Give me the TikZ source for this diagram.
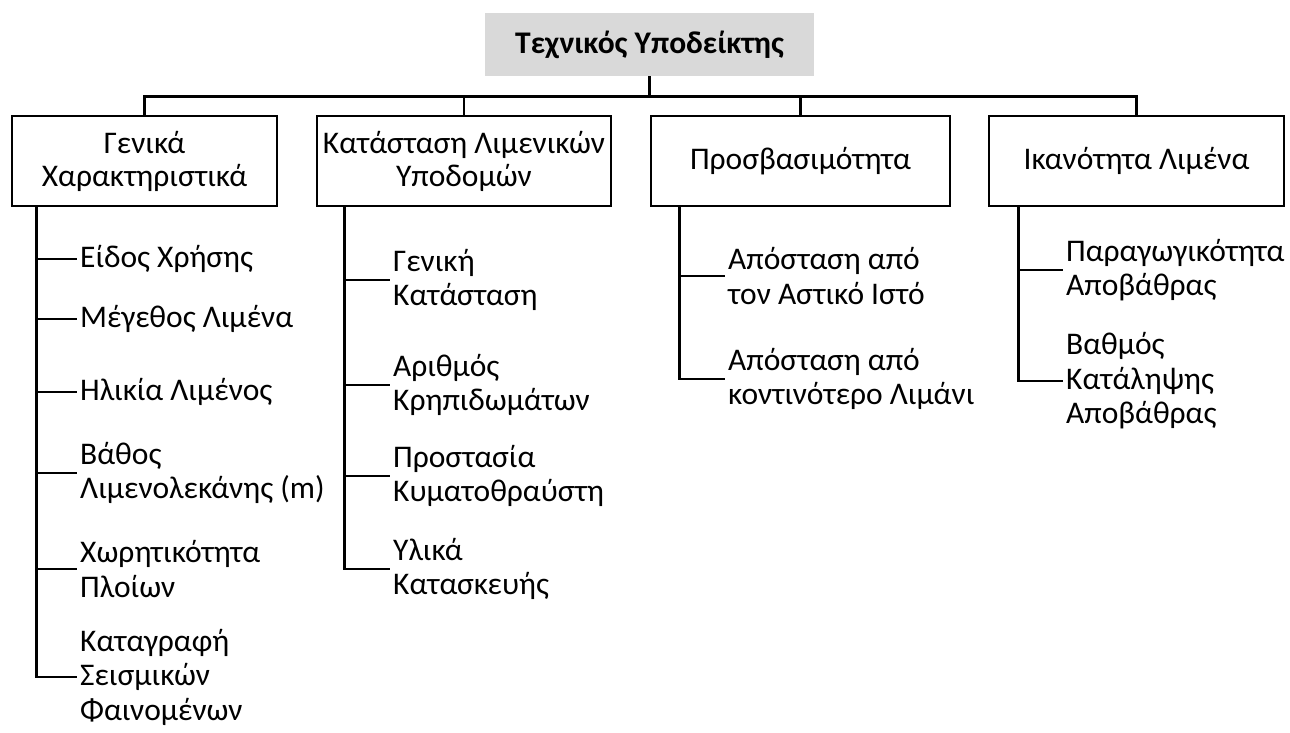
\documentclass[tikz,border=0pt]{standalone}
\usepackage{fontspec}
\setmainfont{Carlito}
\begin{document}
\begin{tikzpicture}[x=1pt,y=-1pt,
  txt/.style={font=\fontsize{31.5}{34.5}\selectfont},
  rootbox/.style={font=\fontsize{31.5}{34.5}\selectfont\bfseries,fill=rootgray,draw=none,
    minimum width=329pt,minimum height=63pt,inner sep=0pt},
  catbox/.style={font=\fontsize{31.5}{33}\selectfont,draw=black,line width=2.8pt,align=center,
    minimum height=90pt,inner sep=0pt},
  leaf/.style={txt,align=left,anchor=west,inner xsep=3pt,inner ysep=0pt},
  link/.style={draw=black,line width=2.7pt},
  branch/.style={draw=black,line width=2.4pt}]
\definecolor{rootgray}{HTML}{D9D9D9}
\useasboundingbox (0,0) rectangle (1290,733);

% root and the four categories
\node[rootbox] (root) at (649.5,44.5) {Τεχνικός Υποδείκτης};
\coordinate (bar) at (0,96.5);
\node[catbox,minimum width=265pt] (c1) at (144.5,161) {Γενικά\\Χαρακτηριστικά};
\node[catbox,minimum width=294pt] (c2) at (464,161) {Κατάσταση Λιμενικών\\Υποδομών};
\node[catbox,minimum width=299pt] (c3) at (800.5,161) {Προσβασιμότητα};
\node[catbox,minimum width=295pt] (c4) at (1136.5,161) {Ικανότητα Λιμένα};

\draw[link] (root.south) -- (root.south |- bar);
\draw[link] (c1.north) -- (c1.north |- bar) -- (c4.north |- bar) -- (c4.north);
\draw[link] (c2.north) -- (c2.north |- bar);
\draw[link] (c3.north) -- (c3.north |- bar);

% column 1
\node[leaf] (a1) at (77,259) {Είδος Χρήσης};
\node[leaf] (a2) at (77,319) {Μέγεθος Λιμένα};
\node[leaf] (a3) at (77,392) {Ηλικία Λιμένος};
\node[leaf] (a4) at (77,473) {Βάθος\\Λιμενολεκάνης (m)};
\node[leaf] (a5) at (77,569) {Χωρητικότητα\\Πλοίων};
\node[leaf] (a6) at (77,677) {Καταγραφή\\Σεισμικών\\Φαινομένων};
\coordinate (s1) at ([xshift=26pt]c1.south west);
\draw[link] (s1) |- (a6.west);
\foreach \n in {a1,a2,a3,a4,a5} \draw[branch] (s1 |- \n.west) -- (\n.west);

% column 2
\node[leaf] (b1) at (390,280) {Γενική\\Κατάσταση};
\node[leaf] (b2) at (390,385) {Αριθμός\\Κρηπιδωμάτων};
\node[leaf] (b3) at (390,476) {Προστασία\\Κυματοθραύστη};
\node[leaf] (b4) at (390,569) {Υλικά\\Κατασκευής};
\coordinate (s2) at ([xshift=29pt]c2.south west);
\draw[link] (s2) |- (b4.west);
\foreach \n in {b1,b2,b3} \draw[branch] (s2 |- \n.west) -- (\n.west);

% column 3
\node[leaf] (d1) at (725,276) {Απόσταση από\\τον Αστικό Ιστό};
\node[leaf] (d2) at (725,379) {Απόσταση από\\κοντινότερο Λιμάνι};
\coordinate (s3) at ([xshift=30pt]c3.south west);
\draw[link] (s3) |- (d2.west);
\draw[branch] (s3 |- d1.west) -- (d1.west);

% column 4
\node[leaf] (e1) at (1063,270) {Παραγωγικότητα\\Αποβάθρας};
\node[leaf] (e2) at (1063,381) {Βαθμός\\Κατάληψης\\Αποβάθρας};
\coordinate (s4) at ([xshift=31pt]c4.south west);
\draw[link] (s4) |- (e2.west);
\draw[branch] (s4 |- e1.west) -- (e1.west);
\end{tikzpicture}
\end{document}
